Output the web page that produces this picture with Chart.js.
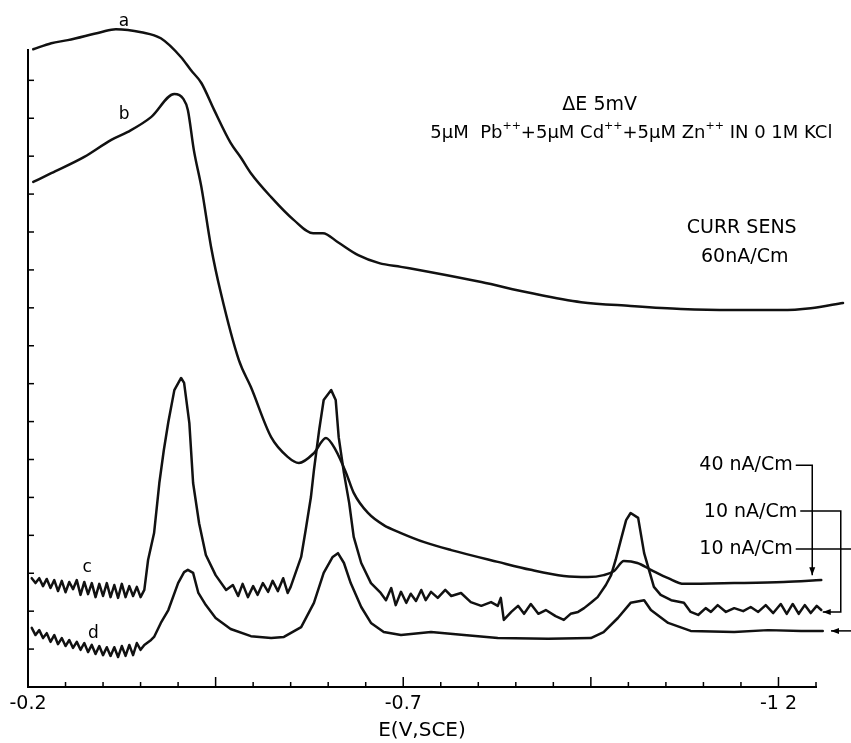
<!DOCTYPE html>
<html>
<head>
<meta charset="utf-8">
<script src="https://cdn.jsdelivr.net/npm/chart.js@4.4.1/dist/chart.umd.min.js"></script>
<style>
  html, body { margin: 0; padding: 0; background: #fff; }
</style>
</head>
<body>
<canvas id="chart" width="851" height="743"></canvas>
<script>
// potential E (V vs SCE) and current in chart divisions
const curveA = [[-0.207,16.82],[-0.231,16.98],[-0.253,17.06],[-0.297,17.27],[-0.317,17.35],[-0.351,17.27],
  [-0.377,17.11],[-0.404,16.61],[-0.417,16.27],[-0.431,15.93],[-0.448,15.22],[-0.470,14.35],[-0.484,13.95],
  [-0.497,13.55],[-0.524,12.92],[-0.554,12.32],[-0.580,11.97],[-0.593,11.97],[-0.613,11.73],[-0.640,11.39],
  [-0.668,11.18],[-0.697,11.08],[-0.737,10.94],[-0.804,10.68],[-0.870,10.39],[-0.937,10.15],[-1.003,10.05],
  [-1.070,9.97],[-1.137,9.94],[-1.203,9.94],[-1.243,9.99],[-1.286,10.13]];

const curveB = [[-0.207,13.32],[-0.231,13.55],[-0.275,13.98],[-0.311,14.43],[-0.333,14.64],[-0.364,15.03],
  [-0.395,15.64],[-0.407,15.51],[-0.413,15.22],[-0.421,14.16],[-0.431,13.19],[-0.444,11.60],[-0.457,10.39],
  [-0.481,8.62],[-0.497,7.91],[-0.524,6.59],[-0.546,6.07],[-0.561,5.91],[-0.581,6.17],[-0.597,6.57],
  [-0.610,6.25],[-0.624,5.64],[-0.634,5.12],[-0.653,4.59],[-0.674,4.27],[-0.697,4.06],[-0.728,3.82],
  [-0.764,3.61],[-0.826,3.30],[-0.870,3.09],[-0.914,2.93],[-0.946,2.90],[-0.967,2.95],[-0.981,3.06],
  [-0.994,3.32],[-1.012,3.27],[-1.030,3.09],[-1.053,2.87],[-1.074,2.72],[-1.141,2.74],[-1.207,2.77],
  [-1.257,2.82]];

const curveC = [[-0.205,2.87],[-0.210,2.74],[-0.215,2.87],[-0.220,2.66],[-0.225,2.85],[-0.230,2.61],
  [-0.235,2.82],[-0.240,2.53],[-0.245,2.80],[-0.250,2.50],[-0.255,2.77],[-0.260,2.58],[-0.265,2.82],
  [-0.270,2.43],[-0.275,2.77],[-0.280,2.45],[-0.285,2.74],[-0.290,2.37],[-0.295,2.72],[-0.300,2.40],
  [-0.305,2.74],[-0.310,2.37],[-0.315,2.69],[-0.320,2.35],[-0.325,2.72],[-0.330,2.37],[-0.335,2.66],
  [-0.340,2.40],[-0.345,2.64],[-0.350,2.37],[-0.355,2.56],
  [-0.360,3.35],[-0.368,4.06],[-0.375,5.38],[-0.381,6.25],[-0.387,6.99],[-0.395,7.83],[-0.404,8.15],
  [-0.408,8.02],[-0.415,6.96],[-0.420,5.38],[-0.428,4.32],[-0.437,3.48],[-0.450,2.95],[-0.464,2.56],
  [-0.473,2.69],[-0.480,2.40],[-0.486,2.72],[-0.493,2.37],[-0.500,2.66],[-0.506,2.43],[-0.513,2.74],
  [-0.520,2.51],[-0.526,2.80],[-0.533,2.53],[-0.540,2.87],[-0.546,2.48],[-0.550,2.64],
  [-0.564,3.43],[-0.570,4.14],[-0.577,5.01],[-0.581,5.72],[-0.588,6.78],[-0.594,7.57],[-0.604,7.83],
  [-0.610,7.57],[-0.614,6.59],[-0.621,5.64],[-0.628,4.85],[-0.634,3.96],[-0.644,3.27],[-0.657,2.74],
  [-0.670,2.48],[-0.677,2.29],[-0.684,2.61],[-0.690,2.16],[-0.697,2.51],[-0.704,2.22],[-0.710,2.46],
  [-0.717,2.27],[-0.724,2.56],[-0.730,2.29],[-0.737,2.51],[-0.746,2.35],[-0.756,2.56],[-0.764,2.40],
  [-0.777,2.48],[-0.790,2.24],[-0.804,2.14],[-0.817,2.24],[-0.826,2.14],[-0.830,2.35],[-0.834,1.77],
  [-0.844,1.98],[-0.853,2.14],[-0.861,1.93],[-0.870,2.19],[-0.880,1.93],[-0.890,2.03],[-0.903,1.87],
  [-0.914,1.77],[-0.923,1.93],[-0.933,1.98],[-0.941,2.08],[-0.950,2.22],[-0.959,2.37],[-0.970,2.69],
  [-0.977,2.95],[-0.983,3.35],[-0.990,3.88],[-0.997,4.40],[-1.003,4.59],[-1.013,4.46],[-1.021,3.53],
  [-1.034,2.64],[-1.043,2.43],[-1.057,2.29],[-1.074,2.22],[-1.083,1.98],[-1.093,1.90],[-1.103,2.08],
  [-1.110,1.98],[-1.119,2.16],[-1.130,1.98],[-1.141,2.08],[-1.153,2.00],[-1.163,2.11],[-1.173,1.98],
  [-1.183,2.16],[-1.193,1.95],[-1.203,2.19],[-1.211,1.93],[-1.219,2.19],[-1.227,1.93],[-1.235,2.16],
  [-1.243,1.95],[-1.251,2.14],[-1.257,2.03]];

const curveD = [[-0.205,1.56],[-0.210,1.37],[-0.215,1.50],[-0.220,1.29],[-0.225,1.42],[-0.230,1.19],
  [-0.235,1.37],[-0.240,1.13],[-0.245,1.29],[-0.250,1.08],[-0.255,1.24],[-0.260,1.03],[-0.265,1.19],
  [-0.270,0.98],[-0.275,1.16],[-0.280,0.92],[-0.285,1.11],[-0.290,0.87],[-0.295,1.08],[-0.300,0.84],
  [-0.305,1.05],[-0.310,0.82],[-0.315,1.05],[-0.320,0.79],[-0.325,1.08],[-0.330,0.82],[-0.335,1.11],
  [-0.340,0.84],[-0.345,1.16],[-0.350,0.98],[-0.355,1.11],
  [-0.364,1.24],[-0.368,1.32],[-0.377,1.69],[-0.387,2.03],[-0.400,2.74],[-0.408,3.03],[-0.413,3.09],
  [-0.420,3.01],[-0.427,2.48],[-0.437,2.16],[-0.450,1.82],[-0.470,1.53],[-0.497,1.34],[-0.524,1.29],
  [-0.541,1.32],[-0.564,1.58],[-0.581,2.22],[-0.594,3.01],[-0.606,3.43],[-0.613,3.53],[-0.621,3.27],
  [-0.630,2.74],[-0.644,2.11],[-0.657,1.69],[-0.674,1.45],[-0.697,1.37],[-0.737,1.45],[-0.781,1.37],
  [-0.826,1.29],[-0.893,1.27],[-0.950,1.29],[-0.967,1.45],[-0.986,1.82],[-1.003,2.22],[-1.021,2.29],
  [-1.030,2.03],[-1.053,1.69],[-1.083,1.48],[-1.141,1.45],[-1.186,1.50],[-1.230,1.48],[-1.259,1.48]];

const xLabelValues = [-0.2, -0.7, -1.2];
const xLabelText = ['-0.2', '-0.7', '-1 2'];
const xTitle = 'E(V,SCE)';

const FONT = '"DejaVu Sans", "Liberation Sans", sans-serif';

// text notes placed in data coordinates [E, i]
const notes = [
  { text: 'a', e: -0.328, i: 17.55, align: 'center', size: 17 },
  { text: 'b', e: -0.328, i: 15.10, align: 'center', size: 17 },
  { text: 'c', e: -0.279, i: 3.16, align: 'center', size: 17 },
  { text: 'd', e: -0.287, i: 1.42, align: 'center', size: 17 },
  { text: 'ΔE 5mV', e: -0.912, i: 15.35, align: 'left', size: 19 },
  { text: 'CURR SENS', e: -1.151, i: 12.10, align: 'center', size: 19 },
  { text: '60nA/Cm', e: -1.155, i: 11.34, align: 'center', size: 19 },
  { text: '40 nA/Cm', e: -1.219, i: 5.85, align: 'right', size: 19 },
  { text: '10 nA/Cm', e: -1.225, i: 4.61, align: 'right', size: 19 },
  { text: '10 nA/Cm', e: -1.219, i: 3.64, align: 'right', size: 19 }
];

const mixAt = [-0.736, 14.61];
const mixParts = [['5μM  Pb', false], ['++', true], ['+5μM Cd', false], ['++', true],
  ['+5μM Zn', false], ['++', true], [' IN 0 1M KCl', false]];

// sensitivity brackets, last point gets an arrow head when arrow is true
const brackets = [
  { pts: [[-1.223, 5.85], [-1.245, 5.85], [-1.245, 2.95]], arrow: true },
  { pts: [[-1.229, 4.64], [-1.283, 4.64], [-1.283, 1.98], [-1.259, 1.98]], arrow: true },
  { pts: [[-1.223, 3.64], [-1.300, 3.64]], arrow: false },
  { pts: [[-1.300, 1.48], [-1.270, 1.48]], arrow: true }
];

function isMajorTick(v) {
  const k = (-0.2 - v) / 0.25;
  return Math.abs(k - Math.round(k)) < 1e-6;
}

const axisTicks = {
  id: 'axisTicks',
  afterDraw(chart) {
    const { ctx, chartArea, scales: { x, y } } = chart;
    ctx.save();
    ctx.strokeStyle = '#000';
    ctx.lineWidth = 1.5;
    x.ticks.forEach(t => {
      const px = x.getPixelForValue(t.value);
      ctx.beginPath();
      ctx.moveTo(px, chartArea.bottom);
      ctx.lineTo(px, chartArea.bottom - (isMajorTick(t.value) ? 10 : 5));
      ctx.stroke();
    });
    y.ticks.forEach(t => {
      if (t.value <= 0 || Math.abs(t.value - Math.round(t.value)) > 1e-6) return;
      const py = y.getPixelForValue(t.value);
      ctx.beginPath();
      ctx.moveTo(chartArea.left, py);
      ctx.lineTo(chartArea.left + 6, py);
      ctx.stroke();
    });
    ctx.restore();
  }
};

const notesPlugin = {
  id: 'notes',
  afterDraw(chart) {
    const { ctx, scales: { x, y } } = chart;
    ctx.save();
    ctx.fillStyle = '#000';
    ctx.strokeStyle = '#000';
    ctx.textBaseline = 'middle';
    notes.forEach(n => {
      ctx.font = n.size + 'px ' + FONT;
      ctx.textAlign = n.align;
      ctx.fillText(n.text, x.getPixelForValue(n.e), y.getPixelForValue(n.i));
    });

    let px = x.getPixelForValue(mixAt[0]);
    const py = y.getPixelForValue(mixAt[1]);
    ctx.textAlign = 'left';
    mixParts.forEach(([t, sup]) => {
      ctx.font = (sup ? 11 : 18) + 'px ' + FONT;
      ctx.fillText(t, px, sup ? py - 7 : py);
      px += ctx.measureText(t).width;
    });

    ctx.lineWidth = 1.5;
    brackets.forEach(b => {
      const p = b.pts.map(([e, i]) => [x.getPixelForValue(e), y.getPixelForValue(i)]);
      ctx.beginPath();
      ctx.moveTo(p[0][0], p[0][1]);
      p.slice(1).forEach(q => ctx.lineTo(q[0], q[1]));
      ctx.stroke();
      if (b.arrow) {
        const [x1, y1] = p[p.length - 2];
        const [x2, y2] = p[p.length - 1];
        const a = Math.atan2(y2 - y1, x2 - x1);
        ctx.beginPath();
        ctx.moveTo(x2, y2);
        ctx.lineTo(x2 - 8 * Math.cos(a) + 3 * Math.sin(a), y2 - 8 * Math.sin(a) - 3 * Math.cos(a));
        ctx.lineTo(x2 - 8 * Math.cos(a) - 3 * Math.sin(a), y2 - 8 * Math.sin(a) + 3 * Math.cos(a));
        ctx.closePath();
        ctx.fill();
      }
    });
    ctx.restore();
  }
};

function trace(points, smooth) {
  return {
    data: points.map(([e, i]) => ({ x: e, y: i })),
    borderColor: '#111',
    borderWidth: 2.5,
    borderJoinStyle: 'round',
    borderCapStyle: 'round',
    pointRadius: 0,
    fill: false,
    clip: false,
    tension: smooth ? 0.4 : 0,
    cubicInterpolationMode: smooth ? 'monotone' : 'default'
  };
}

new Chart(document.getElementById('chart'), {
  type: 'line',
  data: {
    datasets: [trace(curveA, true), trace(curveB, true), trace(curveC, false), trace(curveD, false)]
  },
  options: {
    responsive: false,
    animation: false,
    layout: { padding: { left: 28, right: 35, top: 50, bottom: 0 } },
    plugins: { legend: { display: false }, tooltip: { enabled: false } },
    scales: {
      x: {
        type: 'linear',
        reverse: true,
        min: -1.25,
        max: -0.2,
        border: { display: true, color: '#000', width: 2 },
        grid: { display: false, drawTicks: false },
        ticks: {
          stepSize: 0.05,
          autoSkip: false,
          maxRotation: 0,
          padding: 6,
          color: '#000',
          font: { family: FONT, size: 19 },
          callback: function (value) {
            const k = xLabelValues.findIndex(v => Math.abs(v - value) < 1e-6);
            return k >= 0 ? xLabelText[k] : '';
          }
        },
        title: {
          display: true,
          text: xTitle,
          color: '#000',
          padding: 0,
          font: { family: FONT, size: 20 }
        },
        afterFit: s => { s.height = 56; }
      },
      y: {
        type: 'linear',
        min: 0,
        max: 16.8,
        border: { display: true, color: '#000', width: 2 },
        grid: { display: false, drawTicks: false },
        ticks: { display: false, stepSize: 1 },
        afterFit: s => { s.width = 0; }
      }
    }
  },
  plugins: [axisTicks, notesPlugin]
});
</script>
</body>
</html>
